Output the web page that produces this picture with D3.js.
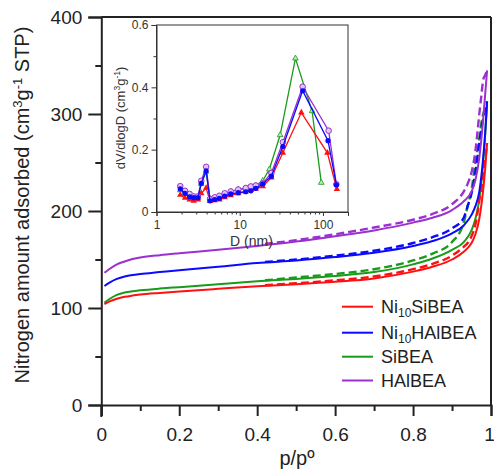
<!DOCTYPE html>
<html><head><meta charset="utf-8">
<script src="https://cdn.jsdelivr.net/npm/d3@7"></script>
<style>body{margin:0;background:#fff}svg{display:block;font-family:"Liberation Sans",Arial,sans-serif}</style>
</head><body><svg id="c" width="494" height="469"></svg>
<script>
// ---------- Data ----------
const seriesNames = ["Ni10SiBEA","Ni10HAlBEA","SiBEA","HAlBEA"];
const seriesColors = ["#ff1010","#0a0aff","#1a9a1a","#9a30d0"];

const pAds = [0.008,0.02,0.04,0.06,0.08,0.1,0.15,0.2,0.3,0.4,0.5,0.6,0.7,0.8,0.85,0.9,0.93,0.95,0.96,0.97,0.98,0.985,0.99];
const adsNi10SiBEA  = [104,106.5,109.5,111.5,112.8,113.8,115.5,117,119.8,122.5,124.5,127,130.5,137.5,142.5,150,158,167,176,192,222,243,270];
const adsNi10HAlBEA = [122.7,126,130,132.5,134,135,137,139,142.5,146.3,149,152.5,157,164,169,177,185,196,205,220,255,280,313];
const adsSiBEA      = [105.5,109,113.5,116,117.3,118.2,120,121.5,124.5,127.5,130,133,137,145,151,160,168,180,192,212,250,278,310];
const adsHAlBEA     = [136.4,140,145,148,150.5,152,154.5,156.5,160,164,168.5,174,180,188,193,201,210,220,232,255,295,320,345];

const pDes = [0.99,0.985,0.98,0.975,0.97,0.965,0.96,0.95,0.94,0.93,0.9,0.85,0.8,0.7,0.6,0.5,0.42];
const desNi10SiBEA  = [270,252,235,222,211,197,186,174,167,163,154,145.5,140,132.5,128.5,125.5,123.5];
const desNi10HAlBEA = [313,305,295,285,270,255,240,218,205,193,182,173,167,159,154,150,147.5];
const desSiBEA      = [310,305,300,290,275,262,250,222,205,188,168,156,149,140,135,131.5,128.5];
const desHAlBEA     = [345,340,335,318,300,280,262,240,228,220,207,197,191,183,176,170,166];

// Inset: pore size distribution
const dNi10SiBEA  = [1.93,2.2,2.5,2.8,3.15,3.45,3.95,4.4,5.0,5.7,6.6,7.8,9.6,11.8,13.6,15.6,18.9,24,33,55,113,147];
const vNi10SiBEA  = [0.055,0.045,0.04,0.036,0.04,0.06,0.077,0.035,0.037,0.04,0.047,0.053,0.06,0.065,0.07,0.074,0.082,0.11,0.19,0.319,0.19,0.073];
const dNi10HAlBEA = [1.93,2.2,2.5,2.8,3.15,3.45,3.95,4.4,5.0,5.7,6.6,7.8,9.6,11.8,13.6,15.6,18.9,24,33,57,115,145];
const vNi10HAlBEA = [0.074,0.06,0.049,0.046,0.046,0.092,0.132,0.036,0.04,0.044,0.051,0.058,0.062,0.065,0.068,0.076,0.09,0.115,0.21,0.389,0.229,0.087];
const dSiBEA      = [1.93,2.2,2.5,2.8,3.15,3.45,3.95,4.4,5.0,5.7,6.6,7.8,9.6,11.8,13.6,15.6,18.9,22.7,30.6,46.7,74,95.5];
const vSiBEA      = [0.07,0.058,0.047,0.043,0.045,0.09,0.13,0.04,0.045,0.05,0.058,0.066,0.072,0.076,0.08,0.085,0.1,0.137,0.247,0.493,0.324,0.094];
const dHAlBEA     = [1.93,2.2,2.5,2.8,3.15,3.45,3.95,4.4,5.0,5.7,6.6,7.8,9.6,11.8,13.6,15.6,18.9,24,33,57,117,145];
const vHAlBEA     = [0.083,0.068,0.058,0.05,0.05,0.1,0.145,0.042,0.047,0.052,0.06,0.066,0.072,0.077,0.082,0.085,0.092,0.125,0.224,0.402,0.261,0.089];

const xTicks = [0,0.2,0.4,0.6,0.8,1];
const yTicks = [0,100,200,300,400];
const insetYTicks = [0,0.2,0.4,0.6];
const insetXTicks = [1,10,100];

// ---------- Drawing ----------
const svg = d3.select("#c");
const x = d3.scaleLinear([0,1],[101.3,491]);
const y = d3.scaleLinear([0,400],[405,17]);
const axisCol = "#222";

// main curves
const line = d3.line().x(d=>x(d[0])).y(d=>y(d[1])).curve(d3.curveMonotoneX);
const ads = [adsNi10SiBEA,adsNi10HAlBEA,adsSiBEA,adsHAlBEA];
const des = [desNi10SiBEA,desNi10HAlBEA,desSiBEA,desHAlBEA];
const gCurves = svg.append("g");
[2,0,1,3].forEach(i=>{
  const a = pAds.map((p,j)=>[p,ads[i][j]]);
  const dd = pDes.map((p,j)=>[p,des[i][j]]).reverse();
  gCurves.append("path").attr("d",line(dd)).attr("fill","none").attr("stroke",seriesColors[i])
    .attr("stroke-width",2.4).attr("stroke-dasharray","8,4");
  gCurves.append("path").attr("d",line(a)).attr("fill","none").attr("stroke",seriesColors[i])
    .attr("stroke-width",2);
});

// frame
svg.append("line").attr("x1",x(0)).attr("x2",x(1)).attr("y1",y(400)).attr("y2",y(400)).attr("stroke",axisCol).attr("stroke-width",2);
svg.append("line").attr("x1",x(1)).attr("x2",x(1)).attr("y1",y(0)).attr("y2",y(400)).attr("stroke",axisCol).attr("stroke-width",2);

// x axis
const xAxis = d3.axisBottom(x).tickValues(xTicks).tickFormat(d=>d===0||d===1?d3.format("d")(d):d3.format(".1f")(d)).tickSize(11).tickPadding(12);
const gx = svg.append("g").attr("transform",`translate(0,${y(0)})`).call(xAxis);
gx.selectAll(".tick line").attr("stroke",axisCol).attr("stroke-width",2);
gx.select(".domain").attr("stroke",axisCol).attr("stroke-width",2);
const gxm = svg.append("g").attr("transform",`translate(0,${y(0)})`).call(d3.axisBottom(x).tickValues([0.1,0.3,0.5,0.7,0.9]).tickSize(6).tickFormat(""));
gxm.select(".domain").remove();
gxm.selectAll(".tick line").attr("stroke",axisCol).attr("stroke-width",2);
gx.selectAll("text").attr("font-size",19).attr("fill","#222").attr("font-family","Liberation Sans, Arial, sans-serif");
gx.selectAll(".tick").filter(d=>d===1).select("text").attr("dx",-2);

// y axis
const yAxis = d3.axisLeft(y).tickValues(yTicks).tickSize(13).tickPadding(6);
const gy = svg.append("g").attr("transform",`translate(${x(0)},0)`).call(yAxis);
gy.selectAll(".tick line").attr("stroke",axisCol).attr("stroke-width",2);
gy.select(".domain").attr("stroke",axisCol).attr("stroke-width",2);
gy.selectAll("text").attr("font-size",19).attr("fill","#222").attr("font-family","Liberation Sans, Arial, sans-serif");
const gym = svg.append("g").attr("transform",`translate(${x(0)},0)`).call(d3.axisLeft(y).tickValues([50,150,250,350]).tickSize(6).tickFormat(""));
gym.select(".domain").remove();
gym.selectAll(".tick line").attr("stroke",axisCol).attr("stroke-width",2);
svg.append("line").attr("x1",x(0)).attr("x2",x(0)).attr("y1",y(0)).attr("y2",y(0)+12).attr("stroke",axisCol).attr("stroke-width",2);

// titles
svg.append("text").attr("x",297).attr("y",465).attr("text-anchor","middle").attr("font-size",20).attr("fill","#222").text("p/pº");
const yt = svg.append("text").attr("transform","translate(29,205) rotate(-90)").attr("text-anchor","middle").attr("font-size",20).attr("fill","#222");
yt.append("tspan").text("Nitrogen amount adsorbed (cm");
yt.append("tspan").attr("font-size",13).attr("dy",-7).text("3");
yt.append("tspan").attr("dy",7).text("g");
yt.append("tspan").attr("font-size",13).attr("dy",-7).text("-1");
yt.append("tspan").attr("dy",7).text(" STP)");

// legend
const legRows = [306.7,332.7,356.7,380.5];
const legSub = [["Ni","10","SiBEA"],["Ni","10","HAlBEA"],["SiBEA"],["HAlBEA"]];
seriesNames.forEach((n,i)=>{
  svg.append("line").attr("x1",342).attr("x2",373).attr("y1",legRows[i]).attr("y2",legRows[i]).attr("stroke",seriesColors[i]).attr("stroke-width",2);
  const t = svg.append("text").attr("x",381).attr("y",legRows[i]+6.5).attr("font-size",18).attr("fill","#222");
  const parts = legSub[i];
  if(parts.length===3){
    t.append("tspan").text(parts[0]);
    t.append("tspan").attr("font-size",12).attr("dy",4).text(parts[1]);
    t.append("tspan").attr("dy",-4).text(parts[2]);
  } else t.text(parts[0]);
});

// ---------- Inset ----------
const xi = d3.scaleLog([1,200],[156.5,348]);
const yi = d3.scaleLinear([0,0.6],[212,25]);
const ig = svg.append("g");
ig.append("rect").attr("x",xi(1)).attr("y",yi(0.6)).attr("width",xi(200)-xi(1)).attr("height",yi(0)-yi(0.6)).attr("fill","#fff").attr("stroke","#333").attr("stroke-width",1);
const gix = ig.append("g").attr("transform",`translate(0,${yi(0)})`).call(d3.axisBottom(xi).tickValues(insetXTicks).tickFormat(d3.format("d")).tickSize(4).tickPadding(4));
const minorX = [];
[1,10,100].forEach(b=>{for(let k=2;k<=9;k++){const v=b*k; if(v<=200) minorX.push(v);} });
ig.append("g").attr("transform",`translate(0,${yi(0)})`).call(d3.axisBottom(xi).tickValues(minorX).tickSize(2.5).tickFormat("")).select(".domain").remove();
const giy = ig.append("g").attr("transform",`translate(${xi(1)},0)`).call(d3.axisLeft(yi).tickValues(insetYTicks).tickFormat(d=>d===0?"0":d3.format(".1f")(d)).tickSize(5).tickPadding(3));
ig.append("g").attr("transform",`translate(${xi(1)},0)`).call(d3.axisLeft(yi).tickValues([0.1,0.3,0.5]).tickSize(3).tickFormat("")).select(".domain").remove();
ig.selectAll(".domain").attr("stroke","#333");
ig.selectAll(".tick line").attr("stroke","#333");
ig.selectAll("text").attr("font-size",12).attr("fill","#333").attr("font-family","Liberation Sans, Arial, sans-serif");

ig.append("text").attr("x",251.5).attr("y",246).attr("text-anchor","middle").attr("font-size",14).attr("fill","#333").text("D (nm)");
const iyt = ig.append("text").attr("transform","translate(125,118) rotate(-90)").attr("text-anchor","middle").attr("font-size",13).attr("fill","#333");
iyt.append("tspan").text("dV/dlogD (cm");
iyt.append("tspan").attr("font-size",8.5).attr("dy",-5).text("3");
iyt.append("tspan").attr("dy",5).text("g");
iyt.append("tspan").attr("font-size",8.5).attr("dy",-5).text("-1");
iyt.append("tspan").attr("dy",5).text(")");

const iD = [dNi10SiBEA,dNi10HAlBEA,dSiBEA,dHAlBEA];
const iV = [vNi10SiBEA,vNi10HAlBEA,vSiBEA,vHAlBEA];
const iline = d3.line().x(d=>xi(d[0])).y(d=>yi(d[1]));
const tri = d3.symbol().type(d3.symbolTriangle);
[2,0,3,1].forEach(i=>{
  const pts = iD[i].map((d,j)=>[d,iV[i][j]]);
  ig.append("path").attr("d",iline(pts)).attr("fill","none").attr("stroke",seriesColors[i]).attr("stroke-width",1.3);
  const mg = ig.append("g");
  pts.forEach(p=>{
    if(i===0){
      mg.append("path").attr("d",tri.size(18)()).attr("transform",`translate(${xi(p[0])},${yi(p[1])})`).attr("fill",seriesColors[i]);
    } else if(i===2){
      mg.append("path").attr("d",tri.size(14)()).attr("transform",`translate(${xi(p[0])},${yi(p[1])})`).attr("fill","#bfe6bf").attr("stroke",seriesColors[i]).attr("stroke-width",0.8);
    } else if(i===1){
      mg.append("circle").attr("cx",xi(p[0])).attr("cy",yi(p[1])).attr("r",2.6).attr("fill",seriesColors[i]);
    } else {
      mg.append("circle").attr("cx",xi(p[0])).attr("cy",yi(p[1])).attr("r",2.8).attr("fill","#e3c4f2").attr("stroke",seriesColors[i]).attr("stroke-width",1);
    }
  });
});
</script></body></html>
